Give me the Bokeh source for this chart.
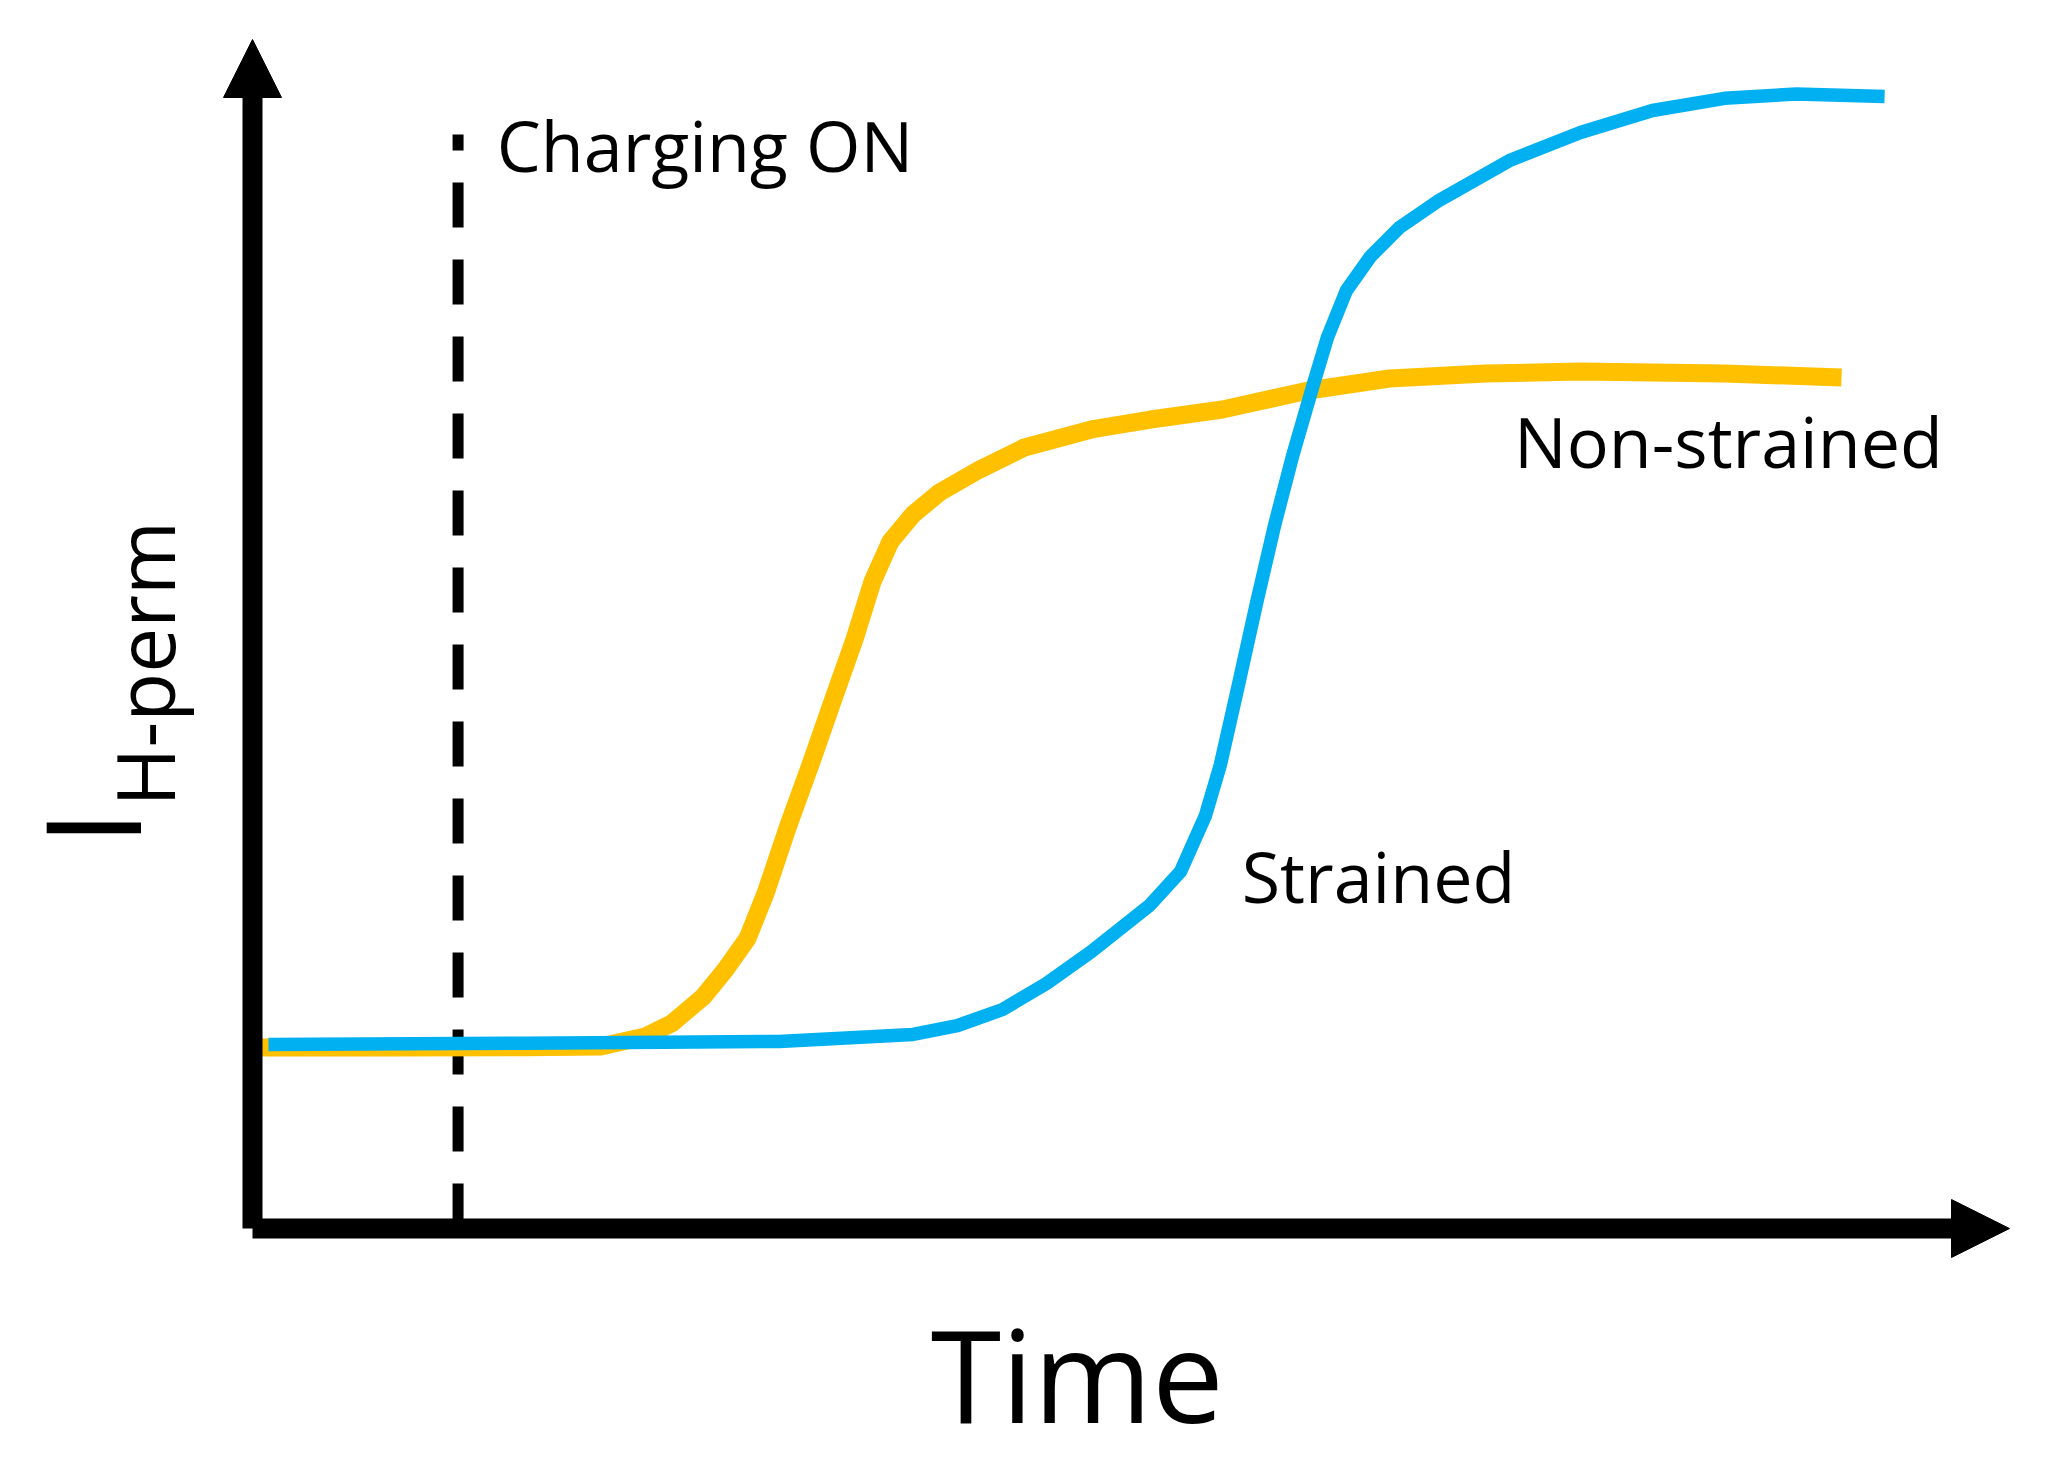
import math
from bokeh.plotting import figure
from bokeh.models import Range1d, Label, Arrow, NormalHead
from bokeh.embed import file_html
from bokeh.resources import INLINE

# ---- data (arbitrary units: time 0..100, current 0..100) ----
ns_time = [0.17, 8.08, 15.54, 19.81, 22.34, 23.85, 25.67, 26.92, 28.17, 29.20, 30.48,
           31.76, 33.01, 34.26, 35.29, 36.31, 37.59, 39.10, 41.38, 43.94, 47.75, 51.11,
           55.21, 60.10, 64.71, 70.18, 75.58, 83.78, 90.44]
ns_curr = [15.22, 15.22, 15.25, 15.3, 16.15, 17.24, 19.51, 21.78, 24.39, 28.18, 33.81,
           39.02, 44.32, 49.54, 54.42, 57.78, 60.05, 61.90, 63.83, 65.69, 67.20, 68.04,
           68.88, 70.48, 71.49, 71.91, 72.08, 71.91, 71.57]

st_time = [0.91, 15.54, 29.97, 37.59, 40.12, 42.69, 45.19, 47.75, 51.05, 52.82, 54.24,
           55.09, 56.12, 57.14, 58.17, 59.19, 60.36, 61.18, 62.26, 63.63, 65.28, 67.44,
           71.54, 75.58, 79.68, 83.78, 87.88, 92.89]
st_curr = [15.48, 15.59, 15.73, 16.32, 17.07, 18.42, 20.61, 23.30, 27.17, 30.03, 34.74,
           39.02, 45.75, 52.57, 59.13, 64.93, 70.90, 74.94, 78.89, 81.75, 84.19, 86.38,
           89.82, 92.18, 94.03, 95.05, 95.42, 95.21]

charging_on_time = 11.7
axis_max = 100.0

labels_text = ["Charging ON", "Non-strained", "Strained"]
labels_x = [13.9, 71.8, 56.3]
labels_y = [88.8, 63.9, 27.25]

# ---- layout ----
W, H = 2043, 1470
PX_T = 17.57   # px per time unit
PX_I = 11.89   # px per current unit
ORIG_X = 252   # canvas px of t=0
ORIG_Y = 1228  # canvas px of I=0 (from top)

x0 = -ORIG_X / PX_T
x1 = (W - ORIG_X) / PX_T
y1 = ORIG_Y / PX_I
y0 = (ORIG_Y - H) / PX_I

p = figure(width=W, height=H, output_backend="svg", toolbar_location=None,
           x_axis_location=None, y_axis_location=None,
           x_range=Range1d(x0, x1), y_range=Range1d(y0, y1), min_border=0)
p.grid.visible = False
p.outline_line_color = None
p.background_fill_color = "white"
p.border_fill_color = "white"

FONT = "Open Sans"
BASE_SHIFT = 0.4  # baseline correction, fraction of font size

# dashed charging line
p.line([charging_on_time, charging_on_time], [0, 92.0], line_color="black",
       line_width=11, line_dash="45 32", line_cap="butt")

# curves
p.line(ns_time, ns_curr, line_color="#FFC000", line_width=18, line_join="round", line_cap="butt")
p.line(st_time, st_curr, line_color="#00B0F0", line_width=13.5, line_join="round", line_cap="butt")

# axes with arrows
p.add_layout(Arrow(end=NormalHead(size=58, fill_color="black", line_color="black", line_width=1),
                   x_start=0, y_start=0, x_end=0, y_end=axis_max,
                   line_color="black", line_width=20))
p.add_layout(Arrow(end=NormalHead(size=58, fill_color="black", line_color="black", line_width=1),
                   x_start=0, y_start=0, x_end=axis_max, y_end=0,
                   line_color="black", line_width=20))

fs = 70
for t, x, y in zip(labels_text, labels_x, labels_y):
    p.add_layout(Label(x=x, y=y, text=t, text_font=FONT, text_font_size=f"{fs}px",
                       y_offset=BASE_SHIFT * fs,
                       text_color="black", text_baseline="alphabetic", text_align="left"))

fs_t = 128
p.add_layout(Label(x=38.6, y=-16.5, text="Time", text_font=FONT, text_font_size=f"{fs_t}px",
                   y_offset=BASE_SHIFT * fs_t,
                   text_color="black", text_baseline="alphabetic", text_align="left"))

# y label: I with subscript H-perm, rotated
fs_i = 132
p.add_layout(Label(x=-6.26, y=33.7, text="I", angle=math.pi / 2, text_font=FONT,
                   text_font_size=f"{fs_i}px", x_offset=-BASE_SHIFT * fs_i,
                   text_color="black", text_baseline="alphabetic", text_align="center"))
fs_s = 80
p.add_layout(Label(x=-4.38, y=35.5, text="H-perm", angle=math.pi / 2, text_font=FONT,
                   text_font_size=f"{fs_s}px", x_offset=-BASE_SHIFT * fs_s,
                   text_color="black", text_baseline="alphabetic", text_align="left"))

open("out.html", "w").write(file_html(p, INLINE))
